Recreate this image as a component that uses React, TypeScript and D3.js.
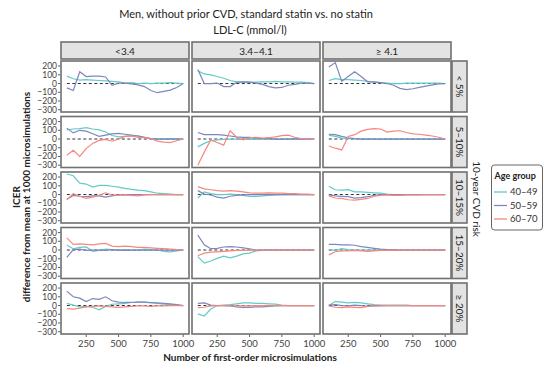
import React from "react";
import * as d3 from "d3";

const xs = [100, 150, 200, 250, 300, 350, 400, 450, 500, 550, 600, 650, 700, 750, 800, 850, 900, 950, 1000];
const ldlCats = ["<3.4", "3.4–4.1", "≥ 4.1"];
const riskCats = ["< 5%", "5–10%", "10–15%", "15–20%", "≥ 20%"];
const ageGroups = ["40–49", "50–59", "60–70"];
const yTicks = [200, 100, 0, -100, -200, -300];
const xTicks = [250, 500, 750, 1000];

const r1c1_a = [85, 55, 40, 45, 40, 35, 30, 25, 20, 5, 10, 0, 5, 0, 5, 5, 10, 5, 0];
const r1c1_b = [-50, -80, 135, 80, 85, 85, 75, -20, 5, 5, -5, -15, -35, -80, -105, -90, -75, -45, 0];
const r1c2_a = [145, 110, 100, 80, 60, 35, 20, 20, 15, 15, 20, 20, 25, 20, 20, 15, 15, 10, 0];
const r1c2_b = [160, 0, 0, 5, -35, -35, 15, 20, 15, 5, -10, -35, -50, -45, -20, -10, 5, 5, 0];
const r1c3_a = [35, 55, 45, 45, 40, 35, 25, 15, 10, 5, 0, 0, 5, 5, 5, 5, 5, 5, 0];
const r1c3_b = [190, 240, 25, 80, 135, 80, 20, 20, 10, 0, -20, -55, -70, -60, -45, -30, -15, -5, 0];

const r2c1_a = [105, 115, 120, 130, 115, 105, 80, 40, 25, 30, 35, 35, 20, 5, 0, 5, 5, 5, 0];
const r2c1_b = [125, 70, 100, 90, 60, 30, 45, 60, 65, 55, 45, 35, 20, 5, 0, 0, 0, 0, 0];
const r2c1_c = [-185, -130, -200, -110, -50, -15, -5, -25, 0, 30, 35, 20, 15, 5, -25, -35, -40, -20, 0];
const r2c2_a = [-90, -50, -20, -10, -5, 0, 0, -5, 0, -5, 0, 0, -5, 0, 0, 0, 0, 0, 0];
const r2c2_b = [75, 50, 50, 50, 45, 35, 25, 20, 20, 10, 5, 5, 0, 0, 0, 5, 0, 0, 0];
const r2c2_c = [-300, -150, -10, -40, -70, 95, 20, -10, 15, 20, 10, 15, 25, 40, 45, 20, 5, 0, 0];
const r2c3_a = [45, 30, 10, 5, 5, 0, 0, 0, 0, 0, 0, 0, 0, 0, 0, 0, 0, 0, 0];
const r2c3_b = [55, 50, 30, 15, 5, 0, 0, 0, 0, 0, 0, 0, 0, 0, 0, 0, 0, 0, 0];
const r2c3_c = [-80, -105, -125, 30, 50, 90, 110, 120, 115, 80, 90, 95, 75, 60, 55, 45, 35, 20, 0];

const r3c1_a = [235, 215, 130, 120, 85, 105, 105, 95, 85, 70, 60, 50, 45, 30, 15, 10, 5, 0, 0];
const r3c1_b = [-55, -10, -20, -25, -15, -15, -30, -15, -5, -5, 0, 0, 0, 0, 0, 0, 0, 0, 0];
const r3c1_c = [-60, 10, -20, -45, -30, -10, 20, -5, -10, -5, -10, -15, -5, 0, 0, 0, 0, 0, 0];
const r3c2_a = [-40, 30, 10, 0, 0, 5, 0, -10, -20, -20, -15, -10, -5, 0, 0, 0, 0, 0, 0];
const r3c2_b = [45, 5, -5, -30, -40, -20, -10, -5, 0, 0, 0, 0, 0, 0, 0, 0, 0, 0, 0];
const r3c2_c = [90, 65, 55, 45, 40, 45, 40, 30, 20, 15, 15, 20, 15, 15, 10, 10, 5, 5, 0];
const r3c3_a = [95, 55, 50, 55, 30, 30, 25, 20, 15, 5, 0, 0, 0, 0, 0, 0, 0, 0, 0];
const r3c3_b = [-5, -15, -20, -25, -40, -35, -25, -10, 0, 0, 0, 0, 0, 0, 0, 0, 0, 0, 0];
const r3c3_c = [-15, -40, -45, -60, -65, -55, -45, -20, -10, -5, -10, -10, -5, -5, -5, 0, 0, 0, 0];

const r4c1_a = [55, 15, 30, 35, -15, -5, 10, 5, 0, 5, 0, 0, 10, 5, 0, -15, -20, -10, 0];
const r4c1_b = [-85, 5, 10, -5, 0, 0, -5, 5, 0, -5, 0, 0, 0, 0, 0, 0, 0, 0, 0];
const r4c1_c = [140, 65, 70, 65, 60, 70, 75, 45, 40, 45, 40, 30, 30, 25, 20, 15, 10, 5, 0];
const r4c2_a = [-75, -150, -125, -95, -70, -90, -70, -45, -35, -10, -5, 0, 0, 0, 0, 0, 0, 0, 0];
const r4c2_b = [170, 60, 15, 20, 35, 40, 35, 25, 15, 0, 0, 0, 0, 0, 0, 0, 0, 0, 0];
const r4c2_c = [-65, -35, -25, -20, -15, -10, -5, -5, 0, 0, 0, 0, 0, 0, 0, 0, 0, 0, 0];
const r4c3_a = [5, -5, 15, 5, 0, 0, 0, 0, 0, 0, 0, 0, 0, 0, 0, 0, 0, 0, 0];
const r4c3_b = [65, 65, 60, 60, 55, 40, 30, 20, 10, 5, 5, 0, 0, 0, 0, 0, 0, 0, 0];
const r4c3_c = [-55, -20, -10, -10, -5, -10, -15, -10, -5, -5, 0, 0, 0, 0, 0, 0, 0, 0, 0];

const r5c1_a = [25, 5, -15, -10, -20, -50, -10, 15, 20, 25, 35, 40, 40, 30, 25, 15, 10, 5, 0];
const r5c1_b = [165, 100, 85, 45, 80, 70, 100, 55, 40, 35, 35, 40, 40, 35, 30, 25, 20, 10, 0];
const r5c1_c = [-35, -40, -30, -15, -10, -5, -10, -15, -20, -15, -10, -5, -5, -10, -5, -5, 0, 0, 0];
const r5c2_a = [-95, -120, -40, 0, 5, 10, 20, 30, 30, 25, 25, 20, 15, 5, 0, 0, 0, 0, 0];
const r5c2_b = [25, 30, 5, 0, 0, -5, -15, -20, -20, -15, -15, -10, -5, 0, 0, 0, 0, 0, 0];
const r5c2_c = [-25, -20, -5, 0, 0, -5, -5, -5, -5, 0, 0, 0, 0, 0, 0, 0, 0, 0, 0];
const r5c3_a = [0, 45, 40, 30, 35, 30, 20, 10, 5, 5, 5, 5, 5, 0, 0, 0, 0, 0, 0];
const r5c3_b = [5, 10, 0, -5, 5, 0, -10, -5, 0, 0, 0, 0, 0, 0, 0, 0, 0, 0, 0];
const r5c3_c = [-5, -20, -25, -15, -20, -25, -10, -5, -5, 0, 0, 0, 0, 0, 0, 0, 0, 0, 0];

const panels: (number[] | null)[][][] = [
  [[r1c1_a, r1c1_b, null], [r1c2_a, r1c2_b, null], [r1c3_a, r1c3_b, null]],
  [[r2c1_a, r2c1_b, r2c1_c], [r2c2_a, r2c2_b, r2c2_c], [r2c3_a, r2c3_b, r2c3_c]],
  [[r3c1_a, r3c1_b, r3c1_c], [r3c2_a, r3c2_b, r3c2_c], [r3c3_a, r3c3_b, r3c3_c]],
  [[r4c1_a, r4c1_b, r4c1_c], [r4c2_a, r4c2_b, r4c2_c], [r4c3_a, r4c3_b, r4c3_c]],
  [[r5c1_a, r5c1_b, r5c1_c], [r5c2_a, r5c2_b, r5c2_c], [r5c3_a, r5c3_b, r5c3_c]],
];

const colors = ["#62cbc7", "#7f86bd", "#f6877f"];
const FONT = "Lato, 'Open Sans', sans-serif";

const panelLeft0 = 61;
const colStep = 131;
const panelW = 128;
const rowTop0 = 61;
const rowStep = 55.5;
const panelH = 51;

export default function App() {
  const x = d3.scaleLinear().domain([55, 1045]).range([0, panelW]);
  const y = d3.scaleLinear().domain([-326, 258]).range([panelH, 0]);
  const line = d3
    .line<number>()
    .x((_, i) => x(xs[i]))
    .y((d) => y(d));

  const plotRight = panelLeft0 + 2 * colStep + panelW;

  return (
    <svg width={544} height={369} style={{ position: "absolute", left: 0, top: 0, background: "#fff" }} fontFamily={FONT}>
      <defs>
        {panels.map((row, ri) =>
          row.map((_, ci) => (
            <clipPath key={`c${ri}-${ci}`} id={`clip${ri}-${ci}`}>
              <rect x={0} y={0} width={panelW} height={panelH} />
            </clipPath>
          ))
        )}
      </defs>
      <text x={246} y={18} textAnchor="middle" fontSize={11} fill="#222">
        Men, without prior CVD, standard statin vs. no statin
      </text>
      <text x={250} y={34} textAnchor="middle" fontSize={11} fill="#222">
        LDL-C (mmol/l)
      </text>

      {ldlCats.map((c, ci) => {
        const left = panelLeft0 + ci * colStep;
        return (
          <g key={"st" + ci}>
            <rect x={left} y={42} width={panelW} height={17} fill="#e3e3e3" stroke="#707070" strokeWidth={1.6} />
            <text x={left + panelW / 2} y={54.5} textAnchor="middle" fontSize={10} fill="#222">
              {c}
            </text>
          </g>
        );
      })}

      {riskCats.map((r, ri) => {
        const top = rowTop0 + ri * rowStep;
        const sx = plotRight + 1;
        return (
          <g key={"rs" + ri}>
            <rect x={sx} y={top} width={15} height={panelH} fill="#e3e3e3" stroke="#707070" strokeWidth={1.6} />
            <text
              transform={`translate(${sx + 7.5},${top + panelH / 2}) rotate(90)`}
              textAnchor="middle"
              dy="0.35em"
              fontSize={10}
              fill="#222"
            >
              {r}
            </text>
          </g>
        );
      })}

      {panels.map((row, ri) =>
        row.map((series, ci) => {
          const left = panelLeft0 + ci * colStep;
          const top = rowTop0 + ri * rowStep;
          return (
            <g key={`p${ri}-${ci}`} transform={`translate(${left},${top})`}>
              <rect x={0} y={0} width={panelW} height={panelH} fill="#fff" />
              <g clipPath={`url(#clip${ri}-${ci})`}>
                <line x1={x(100)} x2={x(1000)} y1={y(0)} y2={y(0)} stroke="#333" strokeWidth={1} strokeDasharray="3,2.5" />
                {series.map((s, ai) =>
                  s ? (
                    <path key={ai} d={line(s) || ""} fill="none" stroke={colors[ai]} strokeWidth={1.2} />
                  ) : null
                )}
              </g>
              <rect x={0} y={0} width={panelW} height={panelH} fill="none" stroke="#707070" strokeWidth={1.6} />
            </g>
          );
        })
      )}

      {riskCats.map((_, ri) => {
        const top = rowTop0 + ri * rowStep;
        return (
          <g key={"ya" + ri} transform={`translate(${panelLeft0},${top})`}>
            {yTicks.map((t) => (
              <g key={t}>
                <line x1={-3} x2={-0.8} y1={y(t)} y2={y(t)} stroke="#333" strokeWidth={0.8} />
                <text x={-4} y={y(t)} dy="0.35em" textAnchor="end" fontSize={8.5} fill="#444">
                  {t < 0 ? "−" + Math.abs(t) : t}
                </text>
              </g>
            ))}
          </g>
        );
      })}

      {ldlCats.map((_, ci) => {
        const left = panelLeft0 + ci * colStep;
        const bottom = rowTop0 + 4 * rowStep + panelH;
        return (
          <g key={"xa" + ci} transform={`translate(${left},${bottom})`}>
            {xTicks.map((t) => (
              <g key={t}>
                <line x1={x(t)} x2={x(t)} y1={0.8} y2={3} stroke="#333" strokeWidth={0.8} />
                <text x={x(t)} y={13} textAnchor="middle" fontSize={9.5} fill="#444">
                  {t}
                </text>
              </g>
            ))}
          </g>
        );
      })}

      <text x={250} y={361} textAnchor="middle" fontSize={10} fontWeight="bold" fill="#222">
        Number of first-order microsimulations
      </text>

      <text transform="translate(20,197) rotate(-90)" textAnchor="middle" fontSize={10} fontWeight="bold" fill="#222">
        ICER
      </text>
      <text transform="translate(30,197) rotate(-90)" textAnchor="middle" fontSize={10} fontWeight="bold" fill="#222">
        difference from mean at 1000 microsimulations
      </text>

      <text transform="translate(473,199) rotate(90)" textAnchor="middle" fontSize={10} fill="#222">
        10-year CVD risk
      </text>

      <g>
        <rect x={491.5} y={165} width={51} height={65} rx={3} fill="#fff" stroke="#666" strokeWidth={1} />
        <text x={494.5} y={178.5} fontSize={9} fontWeight="bold" fill="#222">
          Age group
        </text>
        {ageGroups.map((a, i) => {
          const yy = 192 + i * 13.5;
          return (
            <g key={a}>
              <line x1={494} x2={507} y1={yy} y2={yy} stroke={colors[i]} strokeWidth={1.3} />
              <text x={510} y={yy} dy="0.35em" fontSize={9.5} fill="#333">
                {a}
              </text>
            </g>
          );
        })}
      </g>
    </svg>
  );
}
